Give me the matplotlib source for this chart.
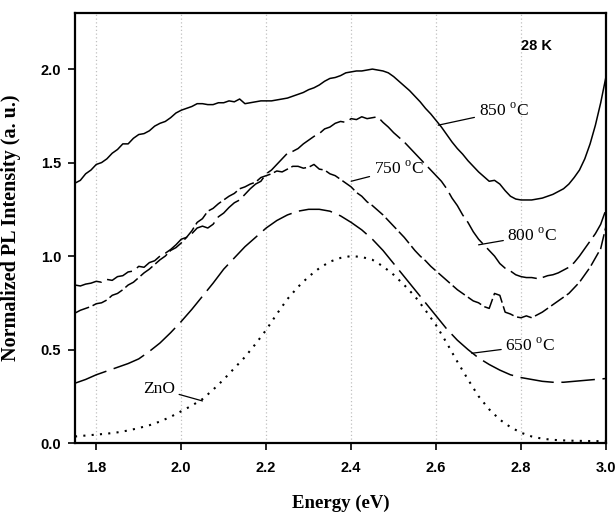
import numpy as np
import matplotlib
matplotlib.use("Agg")
import matplotlib.pyplot as plt

plt.rcParams['mathtext.fontset'] = 'custom'
plt.rcParams['mathtext.rm'] = 'Liberation Serif'

# Energy grid of the smooth spectra (eV)
energy = [1.750, 1.775, 1.800, 1.825, 1.850, 1.875, 1.900, 1.925, 1.950, 1.975,
          2.000, 2.025, 2.050, 2.075, 2.100, 2.125, 2.150, 2.175, 2.200, 2.225,
          2.250, 2.275, 2.300, 2.325, 2.350, 2.375, 2.400, 2.425, 2.450, 2.475,
          2.500, 2.525, 2.550, 2.575, 2.600, 2.625, 2.650, 2.675, 2.700, 2.725,
          2.750, 2.775, 2.800, 2.825, 2.850, 2.875, 2.900, 2.925, 2.950, 2.975,
          3.000]

# Energy grid of the noisy spectra (eV), step 0.0125
energy_fine = np.linspace(1.75, 3.0, 101)

pl_850 = [1.39, 1.405, 1.44, 1.46, 1.49, 1.50, 1.52, 1.55, 1.57, 1.60,
          1.60, 1.63, 1.65, 1.655, 1.67, 1.695, 1.71, 1.72, 1.74, 1.765,
          1.78, 1.79, 1.80, 1.815, 1.815, 1.81, 1.81, 1.82, 1.82, 1.83,
          1.825, 1.84, 1.815, 1.82, 1.825, 1.83, 1.83, 1.83, 1.835, 1.84,
          1.845, 1.855, 1.865, 1.875, 1.89, 1.90, 1.915, 1.935, 1.95, 1.955,
          1.965, 1.98, 1.985, 1.99, 1.99, 1.995, 2.0, 1.995, 1.99, 1.98,
          1.96, 1.935, 1.91, 1.885, 1.855, 1.825, 1.79, 1.76, 1.725, 1.69,
          1.65, 1.61, 1.575, 1.545, 1.51, 1.48, 1.45, 1.425, 1.40, 1.405,
          1.385, 1.35, 1.32, 1.305, 1.30, 1.30, 1.30, 1.305, 1.31, 1.32,
          1.33, 1.345, 1.36, 1.385, 1.42, 1.46, 1.52, 1.60, 1.70, 1.82,
          1.96]

pl_800 = [0.845, 0.84, 0.85, 0.855, 0.865, 0.86, 0.875, 0.87, 0.89, 0.895,
          0.915, 0.92, 0.945, 0.94, 0.965, 0.975, 1.0, 1.015, 1.035, 1.06,
          1.09, 1.10, 1.12, 1.15, 1.16, 1.15, 1.17, 1.21, 1.23, 1.26,
          1.285, 1.30, 1.33, 1.36, 1.385, 1.40, 1.44, 1.46, 1.49, 1.52,
          1.55, 1.56, 1.575, 1.60, 1.62, 1.64, 1.655, 1.68, 1.69, 1.71,
          1.72, 1.715, 1.735, 1.73, 1.745, 1.735, 1.74, 1.745, 1.715, 1.69,
          1.66, 1.635, 1.61, 1.58, 1.55, 1.52, 1.49, 1.46, 1.43, 1.40,
          1.36, 1.31, 1.27, 1.22, 1.18, 1.13, 1.09, 1.06, 1.03, 1.00,
          0.96, 0.935, 0.92, 0.90, 0.89, 0.885, 0.885, 0.88, 0.885, 0.895,
          0.90, 0.91, 0.925, 0.94, 0.965, 1.00, 1.04, 1.08, 1.12, 1.17,
          1.25]

pl_750 = [0.695, 0.71, 0.72, 0.73, 0.745, 0.75, 0.765, 0.79, 0.80, 0.82,
          0.845, 0.86, 0.885, 0.91, 0.93, 0.955, 0.98, 1.0, 1.03, 1.045,
          1.07, 1.10, 1.135, 1.18, 1.20, 1.24, 1.255, 1.28, 1.30, 1.32,
          1.335, 1.36, 1.37, 1.385, 1.395, 1.42, 1.43, 1.44, 1.455, 1.45,
          1.465, 1.48, 1.48, 1.47, 1.475, 1.49, 1.465, 1.46, 1.44, 1.43,
          1.41, 1.39, 1.37, 1.34, 1.32, 1.29, 1.27, 1.245, 1.22, 1.19,
          1.16, 1.13, 1.10, 1.065, 1.03, 1.00, 0.975, 0.945, 0.92, 0.895,
          0.87, 0.845, 0.82, 0.80, 0.78, 0.76, 0.75, 0.73, 0.72, 0.80,
          0.79, 0.70, 0.69, 0.675, 0.67, 0.68, 0.67, 0.685, 0.70, 0.72,
          0.74, 0.76, 0.78, 0.80, 0.83, 0.86, 0.90, 0.94, 0.99, 1.04,
          1.16]

pl_650 = [0.32, 0.34, 0.365, 0.385, 0.405, 0.425, 0.45, 0.49, 0.535, 0.59,
          0.65, 0.715, 0.785, 0.855, 0.93, 0.99, 1.05, 1.10, 1.15, 1.19,
          1.22, 1.24, 1.25, 1.25, 1.24, 1.215, 1.18, 1.14, 1.09, 1.03,
          0.96, 0.89, 0.82, 0.75, 0.68, 0.61, 0.55, 0.50, 0.455, 0.42,
          0.39, 0.365, 0.35, 0.34, 0.33, 0.325, 0.325, 0.33, 0.335, 0.34,
          0.345]

pl_zno = [0.035, 0.04, 0.045, 0.05, 0.057, 0.067, 0.08, 0.095, 0.115, 0.14,
          0.17, 0.20, 0.235, 0.285, 0.34, 0.40, 0.46, 0.53, 0.605, 0.69,
          0.77, 0.835, 0.89, 0.935, 0.97, 0.99, 1.0, 0.995, 0.98, 0.945,
          0.90, 0.845, 0.785, 0.71, 0.63, 0.535, 0.435, 0.34, 0.25, 0.18,
          0.125, 0.085, 0.055, 0.035, 0.023, 0.017, 0.014, 0.012, 0.011, 0.01,
          0.01]

x_ticks = [1.8, 2.0, 2.2, 2.4, 2.6, 2.8, 3.0]
y_ticks = [0.0, 0.5, 1.0, 1.5, 2.0]

fig = plt.figure(figsize=(6.16, 5.14), dpi=100)
ax = fig.add_axes([0.1218, 0.1381, 0.8620, 0.8366])

for xt in x_ticks[:-1]:
    ax.axvline(xt, color='#c0c0c0', lw=0.9, ls=(0, (1, 2)), zorder=0)

lw = 1.1
ax.plot(energy_fine, pl_850, color='black', lw=lw, ls='-')
ax.plot(energy_fine, pl_800, color='black', lw=lw, ls=(0, (18, 4)))
ax.plot(energy_fine, pl_750, color='black', lw=lw, ls=(0, (10, 2.5)))
ax.plot(energy, pl_650, color='black', lw=lw, ls=(0, (22, 5)))
ax.plot(energy, pl_zno, color='black', lw=1.5, ls=(0, (1, 3)))

ax.set_xlim(1.75, 3.0)
ax.set_ylim(0, 2.3)
ax.set_xticks(x_ticks)
ax.set_yticks(y_ticks)
ax.set_xticklabels([f"{v:.1f}" for v in x_ticks])
ax.set_yticklabels([f"{v:.1f}" for v in y_ticks])
for sp in ax.spines.values():
    sp.set_linewidth(1.6)
ax.tick_params(axis='both', direction='out', length=5, width=1.2,
               labelsize=10.5)
ax.tick_params(axis='x', pad=8)
ax.tick_params(axis='y', pad=5)
for lab in ax.get_xticklabels() + ax.get_yticklabels():
    lab.set_fontweight('bold')
    lab.set_family('Liberation Sans')

ax.set_xlabel('Energy (eV)', family='Liberation Serif', fontweight='bold',
              fontsize=13.5, labelpad=14)
ax.set_ylabel('Normalized PL Intensity (a. u.)', family='Liberation Serif',
              fontweight='bold', fontsize=14.5, labelpad=14)

ax.text(2.80, 2.125, '28 K', family='Liberation Sans', fontweight='bold',
        fontsize=10.5, va='center', ha='left')

ann_font = dict(family='Liberation Serif', fontsize=12.5, va='center', ha='left')
ax.annotate('850 $^{\\rm o}$C', xy=(2.605, 1.70), xytext=(2.70, 1.775),
            arrowprops=dict(arrowstyle='-', lw=0.9, shrinkA=1, shrinkB=0), **ann_font)
ax.annotate('750 $^{\\rm o}$C', xy=(2.40, 1.40), xytext=(2.453, 1.465),
            arrowprops=dict(arrowstyle='-', lw=0.9, shrinkA=1, shrinkB=0), **ann_font)
ax.annotate('800 $^{\\rm o}$C', xy=(2.70, 1.06), xytext=(2.768, 1.11),
            arrowprops=dict(arrowstyle='-', lw=0.9, shrinkA=1, shrinkB=0), **ann_font)
ax.annotate('650 $^{\\rm o}$C', xy=(2.684, 0.48), xytext=(2.763, 0.52),
            arrowprops=dict(arrowstyle='-', lw=0.9, shrinkA=1, shrinkB=0), **ann_font)
ax.annotate('ZnO', xy=(2.05, 0.225), xytext=(1.91, 0.29),
            arrowprops=dict(arrowstyle='-', lw=0.9, shrinkA=1, shrinkB=0),
            family='Liberation Serif', fontsize=12.5, va='center', ha='left')

fig.savefig('out.png', dpi=100)
